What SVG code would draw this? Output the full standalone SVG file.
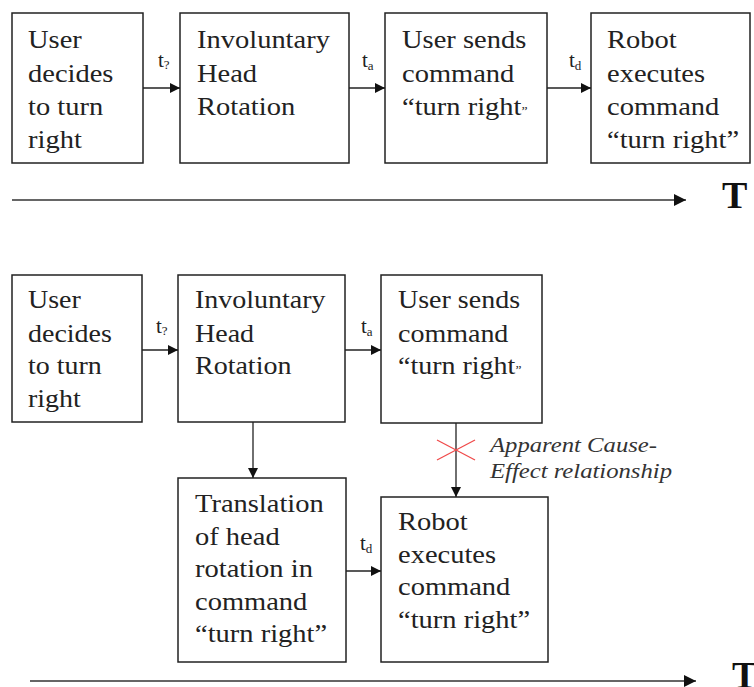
<svg xmlns="http://www.w3.org/2000/svg" width="754" height="687" viewBox="0 0 754 687">
<style>
.box{fill:#fff;stroke:#222;stroke-width:1.5}
.lbl{font-family:'Liberation Serif','DejaVu Serif',serif;font-size:25px;fill:#222}
.t{font-family:'Liberation Serif','DejaVu Serif',serif;font-size:21px;fill:#222}
.sub{font-size:13px}
.conn{stroke:#222;stroke-width:1.3;fill:none}
.time{stroke:#666;stroke-width:1.8;fill:none}
.big{font-family:'Liberation Serif','DejaVu Serif',serif;font-size:38px;font-weight:bold;fill:#111}
.ital{font-family:'Liberation Serif','DejaVu Serif',serif;font-size:20px;font-style:italic;fill:#333}
.x{stroke:#f04a4a;stroke-width:1.3}
</style>
<defs>
<marker id="ah" viewBox="0 0 10 10" refX="10" refY="5" markerWidth="10" markerHeight="10" markerUnits="userSpaceOnUse" orient="auto">
<path d="M0,0 L10,5 L0,10 Z" fill="#111"/>
</marker>
<marker id="ah2" viewBox="0 0 10 10" refX="10" refY="5" markerWidth="12" markerHeight="12" markerUnits="userSpaceOnUse" orient="auto">
<path d="M0,0 L10,5 L0,10 Z" fill="#111"/>
</marker>
</defs>

<g id="top-user-decides">
<rect class="box" x="12" y="13" width="131" height="150"/>
<text class="lbl" transform="translate(28,0) scale(1.14,1)"><tspan x="0" y="48">User</tspan><tspan x="0" y="82">decides</tspan><tspan x="0" y="115">to turn</tspan><tspan x="0" y="148">right</tspan></text>
</g>
<g id="top-head-rotation">
<rect class="box" x="180" y="13" width="169" height="150"/>
<text class="lbl" transform="translate(197,0) scale(1.14,1)"><tspan x="0" y="48">Involuntary</tspan><tspan x="0" y="82">Head</tspan><tspan x="0" y="115">Rotation</tspan></text>
</g>
<g id="top-user-sends">
<rect class="box" x="385" y="13" width="162" height="150"/>
<text class="lbl" transform="translate(402,0) scale(1.14,1)"><tspan x="0" y="48">User sends</tspan><tspan x="0" y="82">command</tspan><tspan x="0" y="115">“turn right<tspan font-size="12">”</tspan></tspan></text>
</g>
<g id="top-robot-executes">
<rect class="box" x="591" y="13" width="159" height="150"/>
<text class="lbl" transform="translate(607,0) scale(1.14,1)"><tspan x="0" y="48">Robot</tspan><tspan x="0" y="82">executes</tspan><tspan x="0" y="115">command</tspan><tspan x="0" y="148">“turn right”</tspan></text>
</g>

<g id="bot-user-decides">
<rect class="box" x="12" y="275" width="130" height="147"/>
<text class="lbl" transform="translate(28,0) scale(1.12,1)"><tspan x="0" y="308">User</tspan><tspan x="0" y="342">decides</tspan><tspan x="0" y="374">to turn</tspan><tspan x="0" y="407">right</tspan></text>
</g>
<g id="bot-head-rotation">
<rect class="box" x="178" y="275" width="167" height="147"/>
<text class="lbl" transform="translate(195,0) scale(1.12,1)"><tspan x="0" y="308">Involuntary</tspan><tspan x="0" y="342">Head</tspan><tspan x="0" y="374">Rotation</tspan></text>
</g>
<g id="bot-user-sends">
<rect class="box" x="381" y="275" width="161" height="148"/>
<text class="lbl" transform="translate(398,0) scale(1.12,1)"><tspan x="0" y="308">User sends</tspan><tspan x="0" y="342">command</tspan><tspan x="0" y="374">“turn right<tspan font-size="12">”</tspan></tspan></text>
</g>
<g id="bot-translation">
<rect class="box" x="178" y="478" width="168" height="184"/>
<text class="lbl" transform="translate(195,0) scale(1.14,1)"><tspan x="0" y="512">Translation</tspan><tspan x="0" y="545">of head</tspan><tspan x="0" y="577">rotation in</tspan><tspan x="0" y="610">command</tspan><tspan x="0" y="642">“turn right”</tspan></text>
</g>
<g id="bot-robot-executes">
<rect class="box" x="381" y="497" width="167" height="165"/>
<text class="lbl" transform="translate(398,0) scale(1.14,1)"><tspan x="0" y="530">Robot</tspan><tspan x="0" y="563">executes</tspan><tspan x="0" y="595">command</tspan><tspan x="0" y="628">“turn right”</tspan></text>
</g>

<g id="connectors">
<line class="conn" x1="143" y1="88" x2="180" y2="88" marker-end="url(#ah)"/>
<line class="conn" x1="349" y1="88" x2="385" y2="88" marker-end="url(#ah)"/>
<line class="conn" x1="547" y1="88" x2="591" y2="88" marker-end="url(#ah)"/>
<line class="conn" x1="142" y1="350" x2="178" y2="350" marker-end="url(#ah)"/>
<line class="conn" x1="345" y1="350" x2="381" y2="350" marker-end="url(#ah)"/>
<line class="conn" x1="253" y1="422" x2="253" y2="478" marker-end="url(#ah)"/>
<line class="conn" x1="456" y1="423" x2="456" y2="497" marker-end="url(#ah)"/>
<line class="conn" x1="346" y1="571" x2="381" y2="571" marker-end="url(#ah)"/>
<line class="time" x1="12" y1="200" x2="686" y2="200" marker-end="url(#ah2)"/>
<line class="time" x1="30" y1="681" x2="696" y2="681" marker-end="url(#ah2)"/>
<line class="x" x1="437" y1="440" x2="475" y2="460"/>
<line class="x" x1="437" y1="460" x2="475" y2="440"/>
</g>

<g id="labels">
<text class="t" x="158" y="67">t<tspan class="sub" dy="2">?</tspan></text>
<text class="t" x="362" y="67">t<tspan class="sub" dy="3">a</tspan></text>
<text class="t" x="569" y="67">t<tspan class="sub" dy="3">d</tspan></text>
<text class="t" x="156" y="333">t<tspan class="sub" dy="2">?</tspan></text>
<text class="t" x="361" y="333">t<tspan class="sub" dy="3">a</tspan></text>
<text class="t" x="360" y="550">t<tspan class="sub" dy="3">d</tspan></text>
<text class="big" x="722" y="208">T</text>
<text class="big" x="732" y="688">T</text>
<text class="ital" x="490" y="452" textLength="167" lengthAdjust="spacingAndGlyphs">Apparent Cause-</text>
<text class="ital" x="490" y="478" textLength="182" lengthAdjust="spacingAndGlyphs">Effect relationship</text>
</g>
</svg>
